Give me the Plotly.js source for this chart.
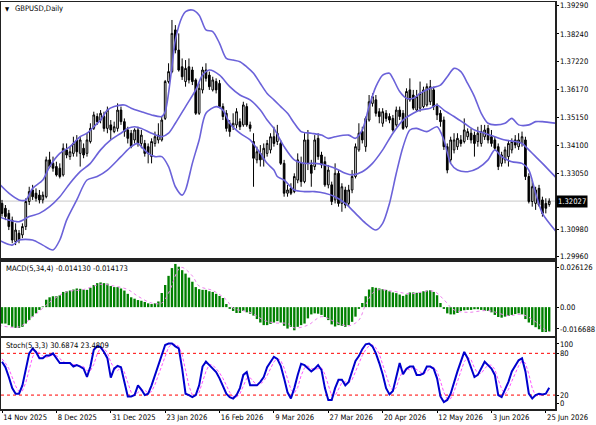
<!DOCTYPE html>
<html><head><meta charset="utf-8">
<script src="https://cdn.plot.ly/plotly-3.0.1.min.js"></script>
<style>html,body{margin:0;padding:0;background:#fff}#chart{width:596px;height:425px}</style>
</head><body><div id="chart"></div>
<script>
// ---- Price data (daily GBPUSD candles) ----
const open=[1.3194,1.3176,1.3157,1.3132,1.3052,1.3083,1.3077,1.3108,1.3201,1.3244,
1.3232,1.3225,1.3207,1.3219,1.3356,1.3343,1.3331,1.3325,1.3300,1.3393,
1.3368,1.3380,1.3430,1.3380,1.3399,1.3380,1.3424,1.3473,1.3517,1.3504,
1.3517,1.3473,1.3486,1.3461,1.3473,1.3541,1.3498,1.3467,1.3455,1.3430,
1.3467,1.3417,1.3417,1.3405,1.3368,1.3417,1.3430,1.3430,1.3510,1.3647,
1.3684,1.3839,1.3764,1.3702,1.3647,1.3702,1.3690,1.3653,1.3529,1.3616,
1.3690,1.3671,1.3616,1.3647,1.3640,1.3554,1.3529,1.3492,1.3479,1.3486,
1.3498,1.3486,1.3554,1.3486,1.3424,1.3356,1.3380,1.3356,1.3380,1.3393,
1.3442,1.3424,1.3417,1.3343,1.3232,1.3250,1.3238,1.3281,1.3343,1.3275,
1.3430,1.3337,1.3331,1.3436,1.3374,1.3349,1.3263,1.3263,1.3207,1.3306,
1.3194,1.3244,1.3194,1.3244,1.3294,1.3393,1.3461,1.3405,1.3504,1.3566,
1.3579,1.3535,1.3492,1.3529,1.3517,1.3510,1.3486,1.3541,1.3529,1.3479,
1.3616,1.3597,1.3541,1.3548,1.3554,1.3560,1.3572,1.3616,1.3554,1.3529,
1.3504,1.3405,1.3356,1.3393,1.3405,1.3430,1.3424,1.3442,1.3455,1.3448,
1.3424,1.3417,1.3442,1.3473,1.3442,1.3430,1.3405,1.3343,1.3356,1.3368,
1.3393,1.3430,1.3405,1.3417,1.3430,1.3294,1.3201,1.3194,1.3250,1.3207,
1.3194,1.3190];
const high=[1.3207,1.3188,1.3170,1.3145,1.3120,1.3095,1.3120,1.3213,1.3256,1.3263,
1.3250,1.3244,1.3238,1.3368,1.3386,1.3368,1.3349,1.3343,1.3417,1.3417,
1.3405,1.3442,1.3448,1.3442,1.3417,1.3455,1.3492,1.3535,1.3529,1.3541,
1.3535,1.3554,1.3504,1.3498,1.3566,1.3554,1.3510,1.3479,1.3467,1.3473,
1.3479,1.3467,1.3430,1.3417,1.3436,1.3461,1.3492,1.3517,1.3653,1.3715,
1.3876,1.3857,1.3826,1.3733,1.3727,1.3733,1.3702,1.3659,1.3640,1.3702,
1.3715,1.3684,1.3665,1.3659,1.3653,1.3566,1.3541,1.3504,1.3529,1.3548,
1.3510,1.3572,1.3566,1.3498,1.3455,1.3405,1.3411,1.3417,1.3430,1.3455,
1.3479,1.3486,1.3430,1.3356,1.3263,1.3269,1.3306,1.3380,1.3368,1.3455,
1.3467,1.3356,1.3448,1.3455,1.3386,1.3368,1.3337,1.3275,1.3343,1.3318,
1.3269,1.3256,1.3263,1.3318,1.3417,1.3492,1.3479,1.3517,1.3597,1.3603,
1.3597,1.3548,1.3548,1.3541,1.3529,1.3523,1.3554,1.3554,1.3541,1.3622,
1.3659,1.3616,1.3616,1.3647,1.3628,1.3640,1.3653,1.3628,1.3566,1.3541,
1.3517,1.3417,1.3442,1.3455,1.3455,1.3448,1.3510,1.3473,1.3473,1.3461,
1.3479,1.3486,1.3486,1.3486,1.3467,1.3442,1.3417,1.3386,1.3405,1.3430,
1.3436,1.3448,1.3455,1.3461,1.3442,1.3306,1.3281,1.3256,1.3263,1.3219,
1.3213,1.3213];
const low=[1.3145,1.3132,1.3095,1.3046,1.3039,1.3046,1.3065,1.3095,1.3188,1.3207,
1.3201,1.3194,1.3194,1.3213,1.3325,1.3312,1.3294,1.3287,1.3294,1.3362,
1.3356,1.3368,1.3368,1.3331,1.3362,1.3368,1.3417,1.3467,1.3486,1.3492,
1.3461,1.3455,1.3430,1.3455,1.3461,1.3486,1.3442,1.3417,1.3399,1.3417,
1.3405,1.3399,1.3368,1.3343,1.3343,1.3405,1.3417,1.3424,1.3504,1.3640,
1.3678,1.3752,1.3684,1.3653,1.3628,1.3640,1.3634,1.3523,1.3523,1.3603,
1.3647,1.3616,1.3610,1.3603,1.3548,1.3504,1.3461,1.3442,1.3467,1.3473,
1.3467,1.3479,1.3479,1.3461,1.3256,1.3343,1.3331,1.3331,1.3368,1.3380,
1.3405,1.3411,1.3337,1.3219,1.3219,1.3225,1.3232,1.3269,1.3256,1.3269,
1.3318,1.3256,1.3318,1.3356,1.3325,1.3256,1.3250,1.3188,1.3194,1.3182,
1.3163,1.3176,1.3182,1.3232,1.3287,1.3386,1.3417,1.3386,1.3498,1.3554,
1.3517,1.3492,1.3479,1.3498,1.3492,1.3461,1.3479,1.3504,1.3467,1.3473,
1.3572,1.3541,1.3535,1.3535,1.3548,1.3554,1.3560,1.3541,1.3504,1.3479,
1.3393,1.3306,1.3343,1.3380,1.3393,1.3405,1.3417,1.3430,1.3417,1.3368,
1.3405,1.3405,1.3430,1.3417,1.3405,1.3393,1.3318,1.3331,1.3343,1.3331,
1.3380,1.3399,1.3393,1.3405,1.3281,1.3194,1.3182,1.3170,1.3182,1.3145,
1.3157,1.3182];
const close=[1.3157,1.3145,1.3108,1.3058,1.3095,1.3058,1.3108,1.3201,1.3238,1.3219,
1.3213,1.3207,1.3225,1.3356,1.3331,1.3325,1.3300,1.3294,1.3399,1.3374,
1.3386,1.3417,1.3386,1.3430,1.3374,1.3430,1.3473,1.3523,1.3498,1.3529,
1.3473,1.3541,1.3467,1.3479,1.3541,1.3498,1.3461,1.3436,1.3405,1.3467,
1.3417,1.3448,1.3380,1.3380,1.3424,1.3442,1.3448,1.3504,1.3647,1.3684,
1.3826,1.3764,1.3690,1.3665,1.3696,1.3653,1.3647,1.3529,1.3622,1.3690,
1.3659,1.3628,1.3653,1.3616,1.3554,1.3517,1.3473,1.3461,1.3492,1.3535,
1.3479,1.3560,1.3486,1.3473,1.3362,1.3386,1.3356,1.3399,1.3417,1.3442,
1.3417,1.3455,1.3343,1.3232,1.3244,1.3232,1.3294,1.3356,1.3275,1.3430,
1.3343,1.3306,1.3430,1.3368,1.3337,1.3263,1.3318,1.3201,1.3306,1.3194,
1.3256,1.3188,1.3244,1.3294,1.3405,1.3455,1.3430,1.3510,1.3572,1.3591,
1.3529,1.3517,1.3535,1.3510,1.3504,1.3467,1.3541,1.3517,1.3473,1.3610,
1.3579,1.3548,1.3591,1.3603,1.3616,1.3628,1.3628,1.3554,1.3523,1.3498,
1.3405,1.3318,1.3430,1.3430,1.3436,1.3417,1.3467,1.3461,1.3430,1.3417,
1.3455,1.3461,1.3467,1.3430,1.3417,1.3399,1.3331,1.3374,1.3393,1.3417,
1.3424,1.3411,1.3430,1.3442,1.3294,1.3201,1.3256,1.3244,1.3188,1.3157,
1.3176,1.32027];
const lastPrice=1.32027;

// ---- Bollinger Bands (read at bar positions) ----
const bbUpperBar=[-1,2,5,7,9,12,14,17,20,23,25,27,29,31,33,36,38,41,44,47,48,50,51,53,54,56,58,60,62,64,66,68,70,72,74,76,78,80,82,84,86,88,91,94,96,98,102,104,106,108,110,112,114,115,117,119,121,123,126,129,131,133,135,137,139,141,143,145,148,150,152,155,157,159,163];
const bbUpperVal=[1.3269,1.3232,1.3207,1.3207,1.3250,1.3281,1.3331,1.3380,1.3405,1.3442,1.3455,1.3479,1.3504,1.3541,1.3554,1.3560,1.3548,1.3535,1.3523,1.3517,1.3535,1.3702,1.3802,1.3888,1.3907,1.3913,1.3894,1.3839,1.3833,1.3789,1.3733,1.3727,1.3721,1.3702,1.3678,1.3640,1.3603,1.3579,1.3554,1.3529,1.3492,1.3461,1.3455,1.3448,1.3436,1.3442,1.3448,1.3436,1.3467,1.3554,1.3628,1.3671,1.3678,1.3659,1.3610,1.3585,1.3585,1.3603,1.3622,1.3634,1.3665,1.3696,1.3684,1.3640,1.3591,1.3529,1.3492,1.3486,1.3492,1.3510,1.3486,1.3486,1.3498,1.3498,1.3492];
const bbMidBar=[-1,2,5,8,11,14,17,20,23,26,29,32,35,37,39,41,44,47,49,51,54,57,59,61,64,67,70,73,76,78,80,83,86,89,92,95,98,101,103,106,109,112,115,118,121,123,126,128,130,133,136,139,142,145,148,151,153,155,157,159,163];
const bbMidVal=[1.3145,1.3132,1.3126,1.3145,1.3157,1.3182,1.3219,1.3269,1.3312,1.3343,1.3393,1.3430,1.3455,1.3473,1.3479,1.3473,1.3455,1.3442,1.3455,1.3492,1.3554,1.3616,1.3671,1.3690,1.3671,1.3628,1.3597,1.3579,1.3541,1.3504,1.3473,1.3405,1.3356,1.3343,1.3343,1.3337,1.3325,1.3306,1.3300,1.3312,1.3343,1.3393,1.3455,1.3504,1.3529,1.3541,1.3548,1.3560,1.3541,1.3517,1.3492,1.3467,1.3455,1.3442,1.3430,1.3424,1.3417,1.3393,1.3368,1.3343,1.3290];
const bbLowBar=[-1,3,5,9,12,15,17,19,22,25,28,31,35,38,40,41,43,45,47,49,51,53,54,56,58,60,63,65,67,70,73,76,78,80,81,83,86,89,92,95,98,101,104,107,110,112,114,116,118,120,122,125,128,130,132,134,137,140,143,145,147,150,153,155,157,159,163];
const bbLowVal=[1.3058,1.3039,1.3058,1.3058,1.3039,1.3021,1.3058,1.3132,1.3207,1.3281,1.3294,1.3318,1.3368,1.3405,1.3417,1.3405,1.3380,1.3368,1.3368,1.3331,1.3256,1.3225,1.3244,1.3343,1.3430,1.3529,1.3554,1.3541,1.3492,1.3455,1.3430,1.3380,1.3343,1.3318,1.3294,1.3281,1.3244,1.3238,1.3238,1.3232,1.3219,1.3194,1.3157,1.3120,1.3095,1.3120,1.3194,1.3306,1.3405,1.3467,1.3473,1.3461,1.3479,1.3430,1.3343,1.3318,1.3312,1.3325,1.3356,1.3393,1.3368,1.3349,1.3343,1.3318,1.3232,1.3157,1.3090];

// ---- MACD(5,34,4) ----
const macdHist=[-0.0095,-0.0095,-0.0104,-0.0114,-0.0120,-0.0120,-0.0114,-0.0095,-0.0075,-0.0055,
-0.0036,-0.0016,0.0004,0.0043,0.0057,0.0063,0.0063,0.0069,0.0088,0.0092,
0.0096,0.0102,0.0108,0.0106,0.0102,0.0100,0.0112,0.0128,0.0139,0.0143,
0.0139,0.0136,0.0122,0.0116,0.0116,0.0108,0.0096,0.0077,0.0057,0.0049,
0.0041,0.0037,0.0030,0.0022,0.0018,0.0022,0.0033,0.0082,0.0128,0.0181,
0.0226,0.0250,0.0234,0.0214,0.0194,0.0171,0.0147,0.0116,0.0104,0.0100,
0.0100,0.0092,0.0088,0.0077,0.0065,0.0053,0.0018,-0.0010,-0.0022,-0.0034,
-0.0034,-0.0022,-0.0030,-0.0038,-0.0049,-0.0069,-0.0089,-0.0104,-0.0104,-0.0097,
-0.0089,-0.0081,-0.0089,-0.0108,-0.0124,-0.0114,-0.0134,-0.0114,-0.0104,-0.0095,
-0.0065,-0.0042,-0.0036,-0.0038,-0.0045,-0.0057,-0.0075,-0.0100,-0.0112,-0.0104,
-0.0108,-0.0114,-0.0104,-0.0085,-0.0055,-0.0010,0.0024,0.0063,0.0102,0.0116,
0.0112,0.0108,0.0104,0.0100,0.0092,0.0085,0.0081,0.0073,0.0065,0.0073,
0.0085,0.0085,0.0083,0.0085,0.0092,0.0096,0.0098,0.0088,0.0069,0.0024,
-0.0010,-0.0036,-0.0042,-0.0042,-0.0034,-0.0022,-0.0018,-0.0016,-0.0016,-0.0012,
-0.0012,-0.0016,-0.0022,-0.0022,-0.0030,-0.0045,-0.0057,-0.0061,-0.0055,-0.0051,
-0.0045,-0.0040,-0.0036,-0.0042,-0.0069,-0.0089,-0.0104,-0.0116,-0.0128,-0.0144,
-0.0144,-0.014130];
const macdSigBar=[-1,5,9,12,15,19,24,29,33,37,40,44,47,49,52,53,56,58,62,66,68,73,77,80,84,86,90,94,98,102,105,107,110,115,120,127,130,133,137,143,149,153,157,160,161];
const macdSigVal=[-0.0104,-0.0114,-0.0055,-0.0006,0.0043,0.0088,0.0102,0.0132,0.0122,0.0102,0.0063,0.0024,0.0024,0.0082,0.0220,0.0230,0.0181,0.0122,0.0096,0.0043,-0.0006,-0.0030,-0.0075,-0.0091,-0.0095,-0.0120,-0.0104,-0.0055,-0.0085,-0.0108,-0.0075,0.0014,0.0096,0.0092,0.0077,0.0092,0.0043,-0.0016,-0.0030,-0.0020,-0.0049,-0.0042,-0.0085,-0.0134,-0.014173];

// ---- Stochastic(5,3,3) ----
const stochMain=[68,60,46,30,22,22,34,58,80,87,
82,73,73,77,77,80,73,66,66,66,
66,61,63,61,58,46,61,85,90,89,
82,73,45,58,62,60,37,18,18,20,
34,28,20,22,34,49,63,80,92,94,
94,90,87,58,22,20,17,20,34,61,
68,63,58,53,44,34,22,17,15,20,
30,49,53,34,34,34,39,46,60,68,
75,72,62,44,24,15,30,49,65,63,
58,54,58,63,56,30,13,13,30,42,
42,34,39,54,69,76,86,93,94,90,
80,66,50,30,21,26,45,66,50,58,
61,61,49,49,51,61,61,58,44,18,
10,13,22,39,54,68,82,73,58,46,
49,58,68,63,58,49,20,17,27,39,
54,63,70,73,54,22,15,20,22,21,
22,30.6874];
const stochSignal=[72,66,58,45,33,25,26,38,57,75,
83,81,76,74,76,78,77,73,68,66,
66,64,63,62,61,55,55,64,79,88,
87,81,67,59,55,60,53,38,24,19,
24,27,27,23,25,35,49,64,78,89,
93,93,90,78,56,33,20,19,24,38,
54,64,63,58,52,44,33,24,18,17,
22,33,44,45,40,34,36,40,48,58,
68,72,70,59,43,28,23,31,48,59,
62,58,57,58,59,50,33,19,19,28,
38,39,38,42,54,66,77,85,91,92,
88,79,65,49,34,26,31,46,54,58,
56,60,57,53,50,54,58,60,54,40,
24,14,15,25,38,54,68,74,71,59,
51,51,58,63,63,57,42,29,21,28,
40,52,62,69,66,50,30,19,19,21,
22,23.4809];
const stochLevels=[80,20];

// ---- Axis labels ----
const dateLabels=['14 Nov 2025','8 Dec 2025','31 Dec 2025','23 Jan 2026','16 Feb 2026','9 Mar 2026','27 Mar 2026','20 Apr 2026','12 May 2026','3 Jun 2026','25 Jun 2026'];
const dateBars=[0,16,32,48,64,80,96,112,128,144,160];
const priceTicks=[1.39290,1.38240,1.37220,1.36170,1.35150,1.34100,1.33050,1.30980,1.29960];
const macdLabels=['0.026126','0.00','-0.016688'];
const stochLabels=['100','80','20','0'];

const bars=close.map((_,i)=>i);
const FONT='"DejaVu Sans Condensed","DejaVu Sans",sans-serif';
const BB='#6b62d9';
const TF={family:FONT,size:7.6,color:'#000'};
const LF={family:FONT,size:7.6,color:'#000'};

const traces=[
 {type:'scatter',mode:'lines',x:bbUpperBar,y:bbUpperVal,xaxis:'x',yaxis:'y',line:{color:BB,width:1.6,shape:'spline',smoothing:0.8},hoverinfo:'skip'},
 {type:'scatter',mode:'lines',x:bbMidBar,y:bbMidVal,xaxis:'x',yaxis:'y',line:{color:BB,width:1.6,shape:'spline',smoothing:0.8},hoverinfo:'skip'},
 {type:'scatter',mode:'lines',x:bbLowBar,y:bbLowVal,xaxis:'x',yaxis:'y',line:{color:BB,width:1.6,shape:'spline',smoothing:0.8},hoverinfo:'skip'},
 {type:'candlestick',x:bars,open:open,high:high,low:low,close:close,xaxis:'x',yaxis:'y',whiskerwidth:0,
  increasing:{line:{color:'#000',width:1},fillcolor:'#ffffff'},
  decreasing:{line:{color:'#000',width:1},fillcolor:'#000000'},hoverinfo:'skip'},
 {type:'bar',x:bars,y:macdHist,xaxis:'x2',yaxis:'y2',marker:{color:'#008000',line:{width:0}},hoverinfo:'skip'},
 {type:'scatter',mode:'lines',x:macdSigBar,y:macdSigVal,xaxis:'x2',yaxis:'y2',line:{color:'#ee82ee',width:1,dash:'dot',shape:'spline'},hoverinfo:'skip'},
 {type:'scatter',mode:'lines',x:bars,y:stochSignal,xaxis:'x3',yaxis:'y3',line:{color:'#ff55ff',width:1,dash:'3px,2px'},hoverinfo:'skip'},
 {type:'scatter',mode:'lines',x:bars,y:stochMain,xaxis:'x3',yaxis:'y3',line:{color:'#0000cd',width:2},hoverinfo:'skip'}
];

const xBase={range:[-0.3,162.7],showgrid:false,zeroline:false,showline:true,mirror:true,linecolor:'#222',linewidth:1.5,ticks:'',showticklabels:false,fixedrange:true};
const yBase={side:'right',showgrid:false,zeroline:false,showline:true,mirror:true,linecolor:'#222',linewidth:1.5,ticks:'outside',ticklen:2,tickcolor:'#000',tickfont:TF,fixedrange:true};

const layout={
 width:596,height:425,margin:{l:1,r:41,t:2,b:16},
 paper_bgcolor:'#ffffff',plot_bgcolor:'#ffffff',showlegend:false,bargap:0.3,
 font:{family:FONT,size:8,color:'#000'},
 xaxis:Object.assign({},xBase,{anchor:'y',rangeslider:{visible:false}}),
 xaxis2:Object.assign({},xBase,{anchor:'y2',matches:'x'}),
 xaxis3:Object.assign({},xBase,{anchor:'y3',matches:'x',showticklabels:true,tickvals:dateBars,ticktext:dateLabels,ticks:'outside',ticklen:2,tickcolor:'#000',tickangle:0,automargin:false,ticklabelposition:'outside right',tickfont:TF}),
 yaxis:Object.assign({},yBase,{domain:[0.3698,1],range:[1.29893,1.39428],tickvals:priceTicks,tickformat:'.5f'}),
 yaxis2:Object.assign({},yBase,{domain:[0.1794,0.3612],range:[-0.016688,0.026126],tickvals:[0.0228,0,-0.0126],ticktext:macdLabels}),
 yaxis3:Object.assign({},yBase,{domain:[0,0.1744],range:[0,102],tickvals:[93.4,80,20,8.1],ticktext:stochLabels}),
 shapes:[
  {type:'line',xref:'x',x0:-0.3,x1:162.7,yref:'y',y0:lastPrice,y1:lastPrice,line:{color:'#c8c8c8',width:1},layer:'below'},
  ...stochLevels.map(v=>({type:'line',xref:'x3',x0:-0.3,x1:162.7,yref:'y3',y0:v,y1:v,line:{color:'#ff0000',width:1,dash:'3px,3px'},layer:'below'}))
 ],
 annotations:[
  {xref:'paper',yref:'paper',x:0.004,y:0.983,xanchor:'left',yanchor:'middle',text:'▼',showarrow:false,font:{family:FONT,size:6,color:'#000'}},
  {xref:'paper',yref:'paper',x:0.022,y:0.983,xanchor:'left',yanchor:'middle',text:'GBPUSD,Daily',showarrow:false,font:LF},
  {xref:'paper',yref:'paper',x:0.006,y:0.344,xanchor:'left',yanchor:'middle',text:'MACD(5,34,4) -0.014130 -0.014173',showarrow:false,font:LF},
  {xref:'paper',yref:'paper',x:0.006,y:0.156,xanchor:'left',yanchor:'middle',text:'Stoch(5,3,3) 30.6874 23.4809',showarrow:false,font:LF},
  {xref:'paper',yref:'y',x:1,y:lastPrice,xanchor:'left',yanchor:'middle',xshift:1,text:'1.32027',showarrow:false,bgcolor:'#000',borderpad:1,font:{family:FONT,size:7.6,color:'#fff'}}
 ]
};

Plotly.newPlot('chart',traces,layout,{staticPlot:true,displayModeBar:false});
</script></body></html>
